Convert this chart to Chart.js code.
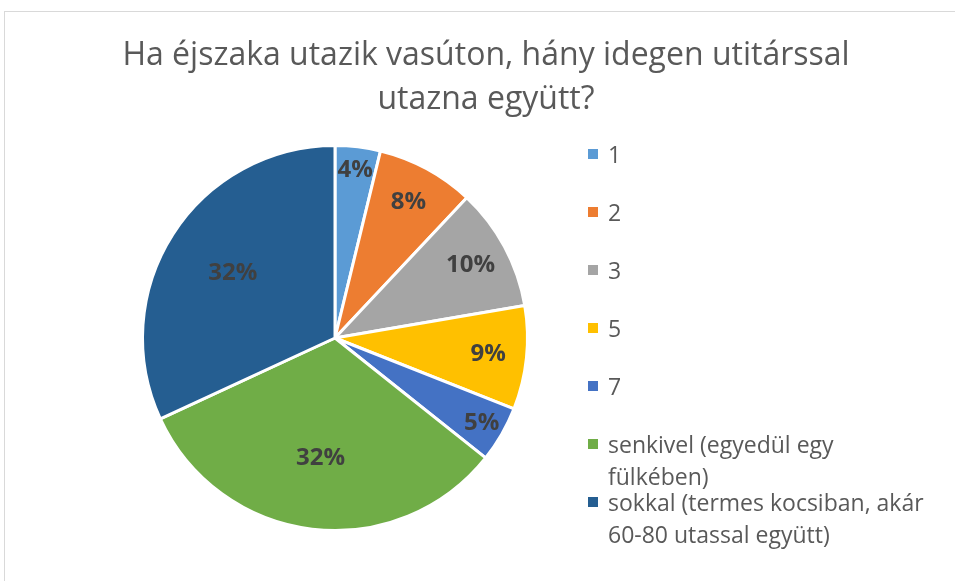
<!DOCTYPE html>
<html>
<head>
<meta charset="utf-8">
<script src="https://cdn.jsdelivr.net/npm/chart.js@4"></script>
<style>
  html, body { margin: 0; padding: 0; background: #fff; overflow: hidden; }
  body { width: 955px; height: 581px; position: relative; font-family: "Open Sans", sans-serif; }
  #frame { position: absolute; left: 4px; top: 11px; width: 1000px; height: 620px; border: 1px solid #d9d9d9; }
  #wrap { position: absolute; left: 4px; top: 11px; width: 964px; height: 570px; }
  #legend { position: absolute; left: 588px; top: 138px; width: 345px; list-style: none; margin: 0; padding: 0; }
  #legend li { position: relative; height: 58px; padding-left: 20px; font-size: 23px; line-height: 32px; color: #595959; }
  #legend li span.box { position: absolute; left: 0; top: 11px; width: 10px; height: 10px; }
</style>
</head>
<body>
<div id="frame"></div>
<div id="wrap"><canvas id="pieChart" width="964" height="570"></canvas></div>
<ul id="legend"></ul>
<script>
const titleLines = ['Ha éjszaka utazik vasúton, hány idegen utitárssal', 'utazna együtt?'];
const labels = ['1', '2', '3', '5', '7', 'senkivel (egyedül egy fülkében)', 'sokkal (termes kocsiban, akár 60-80 utassal együtt)'];
const shares = [3.8, 8.2, 10.3, 8.7, 4.7, 32.4, 31.9];
const colors = ['#5B9BD5', '#ED7D31', '#A5A5A5', '#FFC000', '#4472C4', '#70AD47', '#255E91'];

// title drawn onto the canvas
const titlePlugin = {
  id: 'xlTitle',
  afterDraw(chart) {
    const c = chart.ctx;
    c.save();
    c.fillStyle = '#595959';
    c.font = '32px "Open Sans"';
    c.textAlign = 'center';
    c.textBaseline = 'middle';
    titleLines.forEach((t, i) => c.fillText(t, 482, 45 + i * 44));
    c.restore();
  }
};

// percentage labels inside the slices
const pctPlugin = {
  id: 'pctLabels',
  afterDatasetsDraw(chart) {
    const c = chart.ctx;
    const ds = chart.data.datasets[0].data;
    const total = ds.reduce((a, b) => a + b, 0);
    c.save();
    c.fillStyle = '#404040';
    c.font = 'bold 24px "Open Sans"';
    c.textAlign = 'center';
    c.textBaseline = 'middle';
    chart.getDatasetMeta(0).data.forEach((arc, i) => {
      const p = arc.getProps(['x', 'y', 'startAngle', 'endAngle', 'outerRadius'], true);
      const mid = (p.startAngle + p.endAngle) / 2;
      const pct = ds[i] / total * 100;
      const f = pct <= 5 ? 0.88 : pct < 20 ? 0.8 : 0.63;
      const r = p.outerRadius * f;
      c.fillText(Math.round(pct) + '%', p.x + Math.cos(mid) * r, p.y + Math.sin(mid) * r);
    });
    c.restore();
  }
};

const chart = new Chart(document.getElementById('pieChart'), {
  type: 'pie',
  data: { labels, datasets: [{ data: shares, backgroundColor: colors, borderColor: '#fff', borderWidth: 3 }] },
  options: {
    responsive: false,
    animation: false,
    layout: { padding: { top: 133, bottom: 49, left: 137, right: 439 } },
    plugins: { legend: { display: false }, tooltip: { enabled: false }, title: { display: false } }
  },
  plugins: [titlePlugin, pctPlugin]
});

const ul = document.getElementById('legend');
labels.forEach((l, i) => {
  const li = document.createElement('li');
  li.innerHTML = '<span class="box" style="background:' + colors[i] + '"></span>' + l;
  ul.appendChild(li);
});
</script>
</body>
</html>
